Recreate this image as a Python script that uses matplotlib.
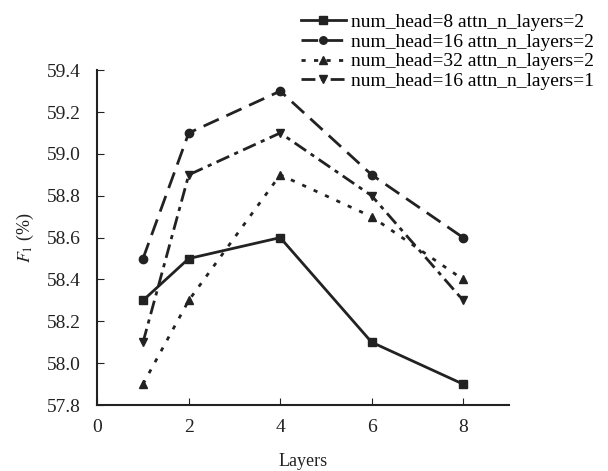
import matplotlib.pyplot as plt

plt.rcParams['font.family'] = ['Liberation Serif', 'DejaVu Serif']
plt.rcParams['mathtext.fontset'] = 'stix'

layers = [1, 2, 4, 6, 8]
head8_attn2 = [58.3, 58.5, 58.6, 58.1, 57.9]
head16_attn2 = [58.5, 59.1, 59.3, 58.9, 58.6]
head32_attn2 = [57.9, 58.3, 58.9, 58.7, 58.4]
head16_attn1 = [58.1, 58.9, 59.1, 58.8, 58.3]

labels = ['num_head=8 attn_n_layers=2', 'num_head=16 attn_n_layers=2',
          'num_head=32 attn_n_layers=2', 'num_head=16 attn_n_layers=1']

c = '#222222'
fig = plt.figure(figsize=(6.08, 4.71), dpi=100)
ax = fig.add_axes([0.16, 0.14, 0.677, 0.711])

ax.plot(layers, head8_attn2, color=c, lw=2, ls='-', marker='s', ms=6, label=labels[0])
ax.plot(layers, head16_attn2, color=c, lw=2, ls=(0, (6, 3)), marker='o', ms=6, label=labels[1])
ax.plot(layers, head32_attn2, color=c, lw=2, ls=(0, (1.5, 3)), marker='^', ms=6, label=labels[2])
ax.plot(layers, head16_attn1, color=c, lw=2, ls=(0, (5, 2, 1.5, 2)), marker='v', ms=6, label=labels[3])

ax.set_xlim(0, 9)
ax.set_ylim(57.8, 59.4)
ax.set_xticks([0, 2, 4, 6, 8])
ax.set_yticks([57.8, 58.0, 58.2, 58.4, 58.6, 58.8, 59.0, 59.2, 59.4])
ax.set_yticklabels(['57.8', '58.0', '58.2', '58.4', '58.6', '58.8', '59.0', '59.2', '59.4'])
ax.tick_params(direction='in', labelsize=14, color=c, labelcolor=c, length=5)
ax.tick_params(axis='x', pad=10)
ax.tick_params(axis='y', pad=12)
for s in ['top', 'right']:
    ax.spines[s].set_visible(False)
for s in ['left', 'bottom']:
    ax.spines[s].set_color(c)
    ax.spines[s].set_linewidth(1.5)

ax.set_xlabel('Layers', fontsize=13, color=c, labelpad=12)
ax.set_ylabel('$F_1$ (%)', fontsize=13, color=c, labelpad=8)

ax.legend(loc='upper right', bbox_to_anchor=(1.0, 1.0), bbox_transform=fig.transFigure,
          frameon=False, fontsize=14, handlelength=2.3, handletextpad=0.3,
          labelspacing=0.1, borderpad=0.2, markerscale=0.9)

fig.savefig('out.png', dpi=100)
